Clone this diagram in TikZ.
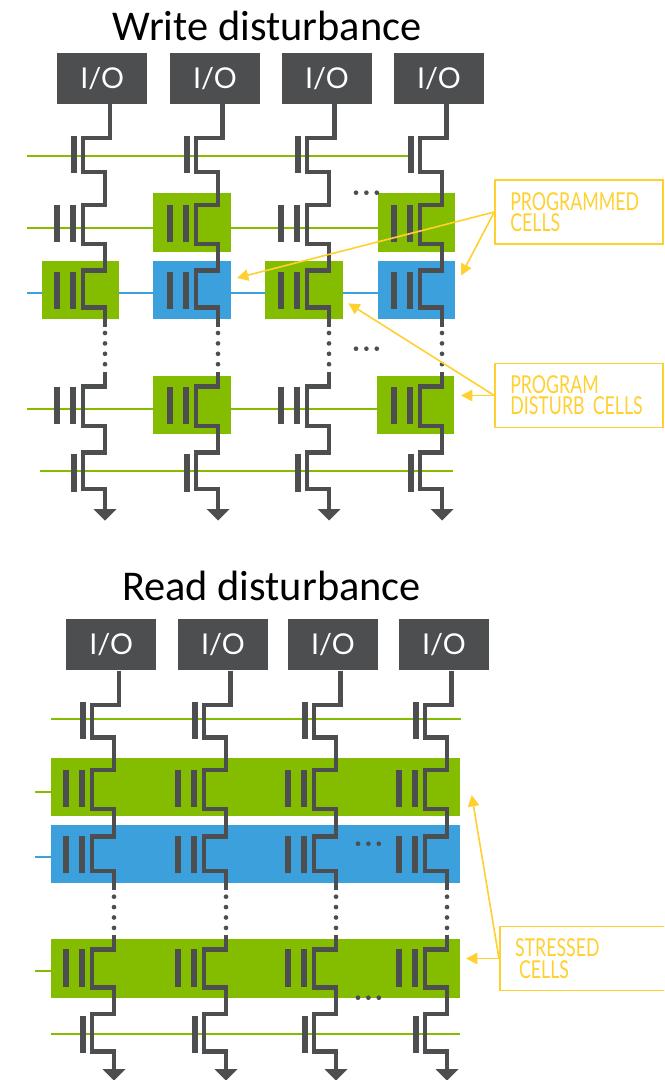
\documentclass[tikz,border=0pt]{standalone}
\usepackage{fontspec}
\setmainfont{Lato}
\newfontfamily\titlefont{Carlito}
\newfontfamily\calloutfamily[FakeStretch=0.72]{Lato}
\definecolor{WireGray}  {RGB}{77,78,80}
\definecolor{CellGreen} {RGB}{132,189,0}
\definecolor{CellBlue}  {RGB}{59,160,220}
\definecolor{NoteYellow}{RGB}{255,208,48}
\usetikzlibrary{arrows.meta}
\tikzset{
  iobox/.style={fill=WireGray,text=white,minimum width=67.5pt,minimum height=38.5pt,
                inner sep=0pt,font=\fontsize{21.5}{21.5}\selectfont},
  wire/.style={draw=WireGray,line width=3.6pt,miter limit=10},
  wordgreen/.style={draw=CellGreen,line width=1.5pt},
  wordblue/.style={draw=CellBlue,line width=1.5pt},
  notebox/.style={draw=NoteYellow,line width=1.2pt,text=NoteYellow,align=left,
                  minimum height=48pt,text width=103pt,inner xsep=11.4pt,inner ysep=0pt,
                  font=\calloutfamily\fontsize{18.5}{16}\selectfont},
  notearrow/.style={draw=NoteYellow,line width=1.2pt,-{Triangle[length=8.5pt,width=8.5pt]}},
  paneltitle/.style={font=\titlefont\fontsize{31.8}{32}\selectfont,inner sep=0pt}
}
% one string of cells: upper part from the I/O box, lower part down to ground
\newcommand{\upperstring}[9]{%
  \draw[wire]([xshift=5.8pt]#1.south)|-(#2-22,#3)--(#2-22,#4)-|(#2,#5)-|(#2-22,#6)
       --(#2-22,#6)-|(#2,#7)-|(#2-22,#8)--(#2-22,#8)-|(#2,#9);
}
\newcommand{\lowerstring}[7]{%
  \draw[wire](#1,#2)|-(#1-22,#3)--(#1-22,#4)-|(#1,#5)-|(#1-22,#6)--(#1-22,#6)-|(#1,#7);
  \fill[WireGray](#1-11.5,#7-1)--(#1+11.5,#7-1)--(#1,#7+10.5)--cycle;
}
\newcommand{\gapdots}[2]{%
  \foreach \k in {0,1,2,3}{\fill[WireGray](#1,#2+10.4*\k) circle(1.75pt);}
}
\newcommand{\rowdots}[2]{%
  \foreach \k in {0,1,2}{\fill[WireGray](#1+10.4*\k,#2) circle(1.75pt);}
}
\newcommand{\gatebar}[3]{\fill[WireGray](#1-3.3,#2)rectangle(#1+3.3,#3);}
\newcommand{\twogates}[3]{\gatebar{#1-48}{#2}{#3}\gatebar{#1-32}{#2}{#3}}

\begin{document}
\begin{tikzpicture}[x=0.75pt,y=-0.75pt]
  \useasboundingbox (0,0) rectangle (664,1080);
  \clip (0,0) rectangle (664,1080);
  \node[paneltitle] (wtitle) at (267,26){Write disturbance};
  \node[paneltitle] (rtitle) at (271.5,586){Read disturbance};
  % Word lines, write
  \draw[wordgreen](27,156)--(408,156);
  \draw[wordgreen](27,228)--(378,228);
  \draw[wordblue](27,293.3)--(378,293.3);
  \draw[wordgreen](27,409.3)--(378,409.3);
  \draw[wordgreen](40,470.7)--(453,470.7);
  % Cells, write
  \fill[CellGreen](153,193.3)rectangle(231,251.7);
  \fill[CellGreen](378.3,193.3)rectangle(455,251.7);
  \fill[CellGreen](41.7,261)rectangle(118.7,318.7);
  \fill[CellBlue](153,261)rectangle(231,318.7);
  \fill[CellGreen](265,261)rectangle(342.7,318.7);
  \fill[CellBlue](378.3,261)rectangle(455,318.7);
  \fill[CellGreen](153,375.7)rectangle(231,434.3);
  \fill[CellGreen](377.3,375.7)rectangle(454,434.3);
  % Word lines and bands, read
  \draw[wordgreen](51,719.3)--(461,719.3);
  \draw[wordgreen](35,792.3)--(51,792.3);
  \draw[wordblue](35,857)--(51,857);
  \draw[wordgreen](35,971)--(51,971);
  \draw[wordgreen](51,1034)--(460,1034);
  \fill[CellGreen](51,758)rectangle(460.3,816);
  \fill[CellBlue](51,825.3)rectangle(460.3,882.7);
  \fill[CellGreen](51,939.3)rectangle(460.3,997.7);
  % I/O boxes
  \node[iobox] (wio1) at (102.3,78.4){I/O};
  \node[iobox] (wio2) at (215,78.4){I/O};
  \node[iobox] (wio3) at (327,78.4){I/O};
  \node[iobox] (wio4) at (439,78.4){I/O};
  \node[iobox] (rio1) at (111.2,644.7){I/O};
  \node[iobox] (rio2) at (223,644.7){I/O};
  \node[iobox] (rio3) at (333,644.7){I/O};
  \node[iobox] (rio4) at (444,644.7){I/O};
  % Strings, write
  \upperstring{wio1}{105}{138}{172}{205}{244}{270.7}{307.7}{327}
  \upperstring{wio2}{218}{138}{172}{205}{244}{270.7}{307.7}{327}
  \upperstring{wio3}{329}{138}{172}{205}{244}{270.7}{307.7}{327}
  \upperstring{wio4}{442}{138}{172}{205}{244}{270.7}{307.7}{327}
  \lowerstring{105}{371.7}{386.7}{426}{452.7}{489}{510}
  \lowerstring{218}{371.7}{386.7}{426}{452.7}{489}{510}
  \lowerstring{329}{371.7}{386.7}{426}{452.7}{489}{510}
  \lowerstring{442}{371.7}{386.7}{426}{452.7}{489}{510}
  \foreach \cx in {105,218,329,442}{
    \gapdots{\cx}{333}
    \gatebar{\cx-31}{136}{173.3}
    \twogates{\cx}{205}{242}
    \twogates{\cx}{271.7}{309}
    \twogates{\cx}{386.7}{424}
    \gatebar{\cx-31}{454}{491.7}
  }
  % Strings, read
  \upperstring{rio1}{114}{705}{737.7}{770}{809}{836.7}{871}{890}
  \upperstring{rio2}{226}{705}{737.7}{770}{809}{836.7}{871}{890}
  \upperstring{rio3}{336}{705}{737.7}{770}{809}{836.7}{871}{890}
  \upperstring{rio4}{447}{705}{737.7}{770}{809}{836.7}{871}{890}
  \lowerstring{114}{935}{949.3}{987.3}{1014}{1051.7}{1070}
  \lowerstring{226}{935}{949.3}{987.3}{1014}{1051.7}{1070}
  \lowerstring{336}{935}{949.3}{987.3}{1014}{1051.7}{1070}
  \lowerstring{447}{935}{949.3}{987.3}{1014}{1051.7}{1070}
  \foreach \cx in {114,226,336,447}{
    \gapdots{\cx}{896.7}
    \gatebar{\cx-31}{701.7}{739}
    \twogates{\cx}{770}{807.3}
    \twogates{\cx}{835.7}{872.7}
    \twogates{\cx}{949.3}{986.7}
    \gatebar{\cx-31}{1016}{1053}
  }
  % Row dots
  \rowdots{356}{192.7}
  \rowdots{356}{348.7}
  \rowdots{358}{843.7}
  \rowdots{358}{997.7}
  % Notes
  \node[notebox,anchor=west] (wprog) at (494.3,212){PROGRAMMED\\CELLS};
  \node[notebox,anchor=west] (wdist) at (494.3,395.5){PROGRAM\\DISTURB CELLS};
  \node[notebox,anchor=west] (rstress) at (499,958.5){STRESSED\\\hspace*{3pt}CELLS};
  \coordinate (wtipa) at (237,278);
  \coordinate (wtipb) at (461,275.5);
  \coordinate (wtipc) at (348.3,303.3);
  \coordinate (wtipd) at (461,395.5);
  \coordinate (rtipa) at (471.7,795);
  \coordinate (rtipb) at (466,958.5);
  \draw[notearrow](wprog.west)--(wtipa);
  \draw[notearrow](wprog.west)--(wtipb);
  \draw[notearrow](wdist.west)--(wtipc);
  \draw[notearrow](wdist.west)--(wtipd);
  \draw[notearrow](rstress.west)--(rtipa);
  \draw[notearrow](rstress.west)--(rtipb);
\end{tikzpicture}
\end{document}
